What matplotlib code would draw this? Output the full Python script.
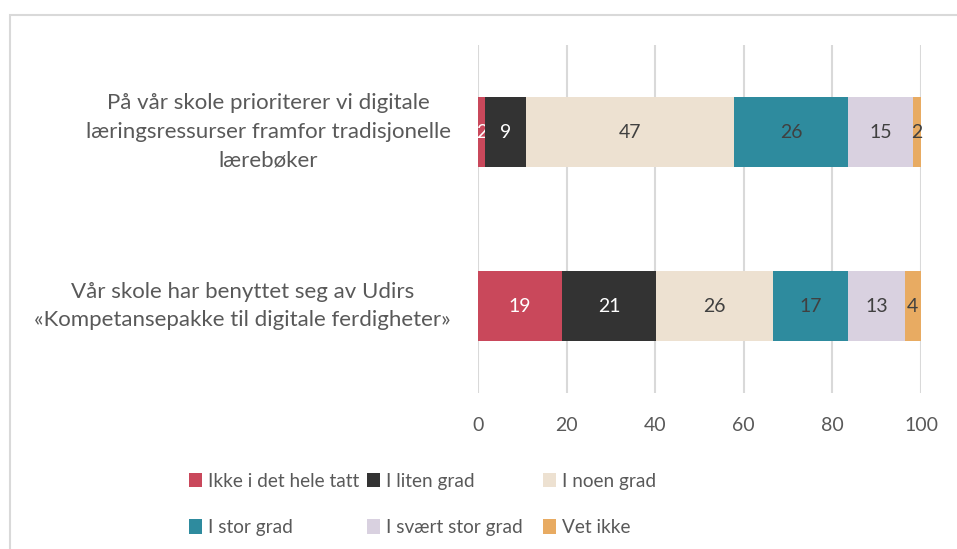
import matplotlib
matplotlib.use("Agg")
import matplotlib.pyplot as plt
from matplotlib.patches import Rectangle

plt.rcParams['font.family'] = ['Lato', 'DejaVu Sans']

categories = [
    "På vår skole prioriterer vi digitale\nlæringsressurser framfor tradisjonelle\nlærebøker",
    "Vår skole har benyttet seg av Udirs\n«Kompetansepakke til digitale ferdigheter»",
]
series_names = ["Ikke i det hele tatt", "I liten grad", "I noen grad",
                "I stor grad", "I svært stor grad", "Vet ikke"]
values = {
    "Ikke i det hele tatt": [1.6, 18.9],
    "I liten grad": [9.2, 21.3],
    "I noen grad": [47.0, 26.4],
    "I stor grad": [25.7, 17.0],
    "I svært stor grad": [14.7, 12.7],
    "Vet ikke": [1.8, 3.7],
}
colors = ["#C9485B", "#333333", "#EDE1D1", "#2E8B9E", "#D9D1E0", "#E8AB62"]
label_colors = ["white", "white", "#404040", "#404040", "#404040", "#404040"]
xticks = [0, 20, 40, 60, 80, 100]

W, H = 957, 549
fig = plt.figure(figsize=(W / 100, H / 100), dpi=100)
ax = fig.add_axes([478 / W, 1 - 393 / H, (921 - 478) / W, (393 - 45) / H])

text_color = "#595959"
ypos = [0, 1]
left = [0.0, 0.0]
handles = []
for name, col, lc in zip(series_names, colors, label_colors):
    vals = values[name]
    bars = ax.barh(ypos, vals, left=left, height=0.4, color=col, label=name, zorder=3)
    handles.append(bars)
    ax.bar_label(bars, labels=[f"{v:.0f}" for v in vals], label_type="center",
                 color=lc, fontsize=14)
    left = [l + v for l, v in zip(left, vals)]

ax.set_ylim(1.5, -0.5)
ax.set_xlim(0, 100)
ax.set_xticks(xticks)
ax.set_xticklabels([str(t) for t in xticks])
ax.set_yticks(ypos)
ax.set_yticklabels([])
ax.tick_params(axis="both", length=0, colors=text_color, labelsize=14, pad=17)
ax.grid(axis="x", color="#D9D9D9", linewidth=1.5, zorder=0)
for s in ax.spines.values():
    s.set_visible(False)

# category labels (centered multi-line text, block right-aligned to the axis)
for y, cat in zip([132, 306], categories):
    fig.text(451 / W, 1 - y / H, cat, ha="right", va="center", color=text_color,
             fontsize=16, linespacing=1.55, multialignment="center")

# legend: three equal-width columns, filled row by row
col_x = [179, 357, 533]
for c, x in enumerate(col_x):
    idx = [c, c + 3]
    leg = fig.legend([handles[i] for i in idx], [series_names[i] for i in idx],
                     loc="upper left", bbox_to_anchor=(x / W, 1 - 463 / H),
                     ncol=1, frameon=False,
                     fontsize=13.7, handlelength=0.72, handleheight=0.78, handletextpad=0.3,
                     labelspacing=1.55, labelcolor=text_color, borderpad=0.0)

fig.patches.append(Rectangle((10 / W, -0.05), 1.2, 1 - 15 / H + 0.05,
                             transform=fig.transFigure, fill=False,
                             edgecolor="#D9D9D9", linewidth=1.5))

fig.savefig("out.png", dpi=100)
